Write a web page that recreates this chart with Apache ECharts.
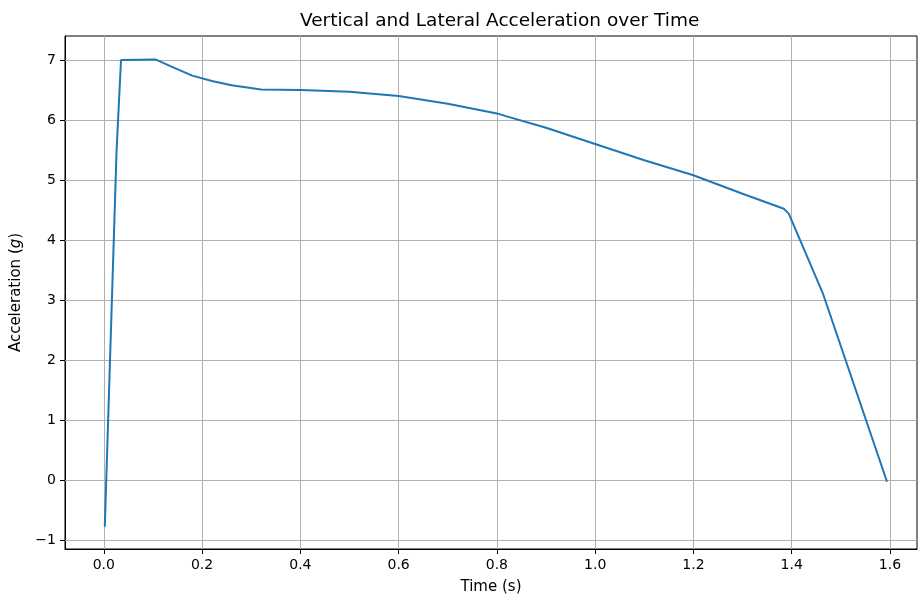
<!DOCTYPE html>
<html><head><meta charset="utf-8">
<script src="https://cdn.jsdelivr.net/npm/echarts@6/dist/echarts.min.js"></script>
<style>html,body{margin:0;padding:0;background:#fff}#c{width:918px;height:601px}</style>
</head><body><div id="c"></div>
<script>
const timeS = [0.002, 0.026, 0.035, 0.105, 0.14, 0.18, 0.22, 0.26, 0.32, 0.40, 0.50, 0.60, 0.70, 0.80, 0.82, 0.90, 1.00, 1.10, 1.20, 1.30, 1.384, 1.394, 1.463, 1.594];
const accelG = [-0.78, 5.5, 7.0, 7.01, 6.88, 6.74, 6.65, 6.58, 6.51, 6.5, 6.47, 6.4, 6.27, 6.11, 6.06, 5.87, 5.6, 5.33, 5.08, 4.77, 4.52, 4.44, 3.12, -0.03];
const xTicks = [0, 0.2, 0.4, 0.6, 0.8, 1.0, 1.2, 1.4, 1.6];
const yTicks = [-1, 0, 1, 2, 3, 4, 5, 6, 7];
const titleText = 'Vertical and Lateral Acceleration over Time';

const chart = echarts.init(document.getElementById('c'), null, {renderer: 'canvas'});
const font = 'DejaVu Sans';
const gridColor = '#b0b0b0';
chart.setOption({
  animation: false,
  textStyle: {fontFamily: font},
  title: {text: titleText, left: 295, top: 7, textStyle: {fontFamily: font, fontSize: 18.5, fontWeight: 'normal', color: '#000'}},
  grid: {left: 65, right: 1, top: 36, bottom: 52, show: true, borderColor: '#000', borderWidth: 1},
  xAxis: {
    type: 'value', min: -0.079, max: 1.655,
    name: 'Time (s)', nameLocation: 'middle', nameGap: 31,
    nameTextStyle: {fontFamily: font, fontSize: 15, color: '#000'},
    axisLine: {show: true, onZero: false, lineStyle: {color: '#000', width: 1}},
    axisTick: {show: true, length: 5, lineStyle: {color: '#000'}, customValues: xTicks},
    axisLabel: {customValues: xTicks, fontFamily: font, fontSize: 14, color: '#000', margin: 9,
      formatter: v => v.toFixed(1)},
    splitLine: {show: false}
  },
  yAxis: {
    type: 'value', min: -1.15, max: 7.4,
    name: '{a|Acceleration (}{i|g}{a|)}', nameLocation: 'middle', nameGap: 41, nameRotate: 90,
    nameTextStyle: {fontFamily: font, fontSize: 15, color: '#000',
      rich: {a: {fontFamily: font, fontSize: 15, color: '#000'}, i: {fontFamily: font, fontSize: 15, color: '#000', fontStyle: 'italic'}}},
    axisLine: {show: true, onZero: false, lineStyle: {color: '#000', width: 1}},
    axisTick: {show: true, length: 5, lineStyle: {color: '#000'}, customValues: yTicks},
    axisLabel: {customValues: yTicks, fontFamily: font, fontSize: 14, color: '#000', margin: 9,
      formatter: v => (v < 0 ? '\u2212' + Math.abs(v) : String(v))},
    splitLine: {show: false}
  },
  series: [
    {type: 'line', data: timeS.map((t, i) => [t, accelG[i]]), showSymbol: false, symbol: 'none',
      lineStyle: {color: '#1f77b4', width: 2}, z: 5,
      markLine: {silent: true, symbol: 'none', label: {show: false}, animation: false,
        lineStyle: {color: gridColor, width: 1, type: 'solid'},
        data: xTicks.map(v => ({xAxis: v})).concat(yTicks.map(v => ({yAxis: v})))}
    }
  ]
});
</script></body></html>
